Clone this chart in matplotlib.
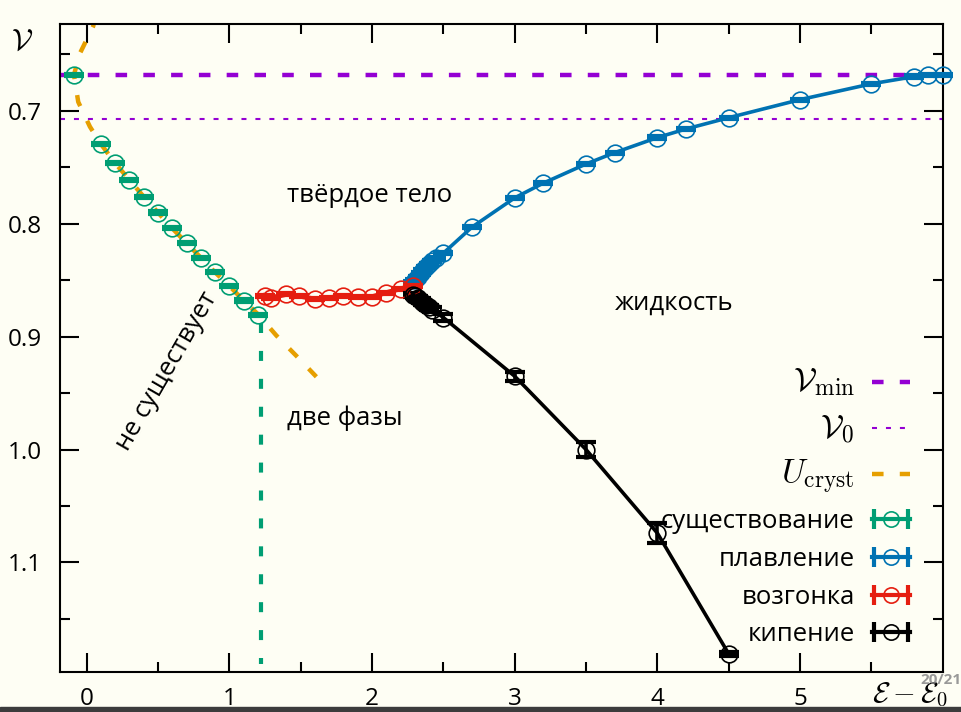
import numpy as np
import matplotlib
matplotlib.use('Agg')
import matplotlib.pyplot as plt
from matplotlib.patches import Rectangle
from matplotlib.lines import Line2D
from matplotlib.legend_handler import HandlerBase

# данные
v_min = 0.668
v_0 = 0.707

u_x = [0.06, 0.046, -0.047, -0.089, -0.059, 0.023, 0.098, 0.198, 0.299, 0.40, 0.50,
       0.60, 0.70, 0.80, 0.90, 1.0, 1.10, 1.20, 1.33, 1.47, 1.61]
u_v = [0.616, 0.625, 0.649, 0.668, 0.692, 0.714, 0.729, 0.746, 0.761, 0.776, 0.790,
       0.804, 0.817, 0.830, 0.843, 0.855, 0.868, 0.880, 0.899, 0.917, 0.9355]

exist_x = [-0.089, 0.1, 0.2, 0.3, 0.4, 0.5, 0.6, 0.7, 0.8, 0.9, 1.0, 1.1, 1.2]
exist_v = [0.668, 0.729, 0.746, 0.761, 0.776, 0.790, 0.804, 0.817, 0.830, 0.843, 0.855, 0.868, 0.881]
exist_err = [0.001] * len(exist_x)
exist_edge = 1.225
exist_edge_v = [0.888, 1.19]

melt_x = [2.29, 2.30, 2.32, 2.34, 2.36, 2.38, 2.40, 2.42, 2.45, 2.5, 2.7, 3.0, 3.2, 3.5,
          3.7, 4.0, 4.2, 4.5, 5.0, 5.5, 5.8, 5.9, 6.0]
melt_v = [0.852, 0.850, 0.847, 0.844, 0.841, 0.838, 0.836, 0.833, 0.830, 0.826, 0.803,
          0.777, 0.764, 0.747, 0.737, 0.7236, 0.716, 0.706, 0.690, 0.676, 0.6696, 0.668, 0.668]
melt_err = [0.001] * len(melt_x)

subl_x = [1.25, 1.29, 1.40, 1.49, 1.60, 1.70, 1.80, 1.90, 2.0, 2.10, 2.20, 2.29]
subl_v = [0.8637, 0.8655, 0.8625, 0.864, 0.8667, 0.8655, 0.8637, 0.8646, 0.8646,
          0.861, 0.8575, 0.855]
subl_err = [0.001] * len(subl_x)

boil_x = [2.29, 2.30, 2.32, 2.34, 2.36, 2.38, 2.40, 2.42, 2.5, 3.0, 3.5, 4.0, 4.5]
boil_v = [0.863, 0.864, 0.866, 0.868, 0.870, 0.872, 0.874, 0.876, 0.883, 0.935, 1.0,
          1.074, 1.181]
boil_err = [0.002] * 8 + [0.003, 0.004, 0.007, 0.009, 0.002]

# цвета gnuplot
c_violet = '#9400d3'
c_green = '#009e73'
c_blue = '#0072b2'
c_orange = '#e69f00'
c_red = '#e51e10'
bg = '#fefef4'

plt.rcParams['font.family'] = ['Open Sans', 'DejaVu Sans']
plt.rcParams['mathtext.fontset'] = 'cm'
plt.rcParams['font.size'] = 17.5


class HandlerHOH(HandlerBase):
    # значок легенды как у gnuplot: |—o—|
    def create_artists(self, legend, orig_handle, xdescent, ydescent, width,
                       height, fontsize, trans):
        col = orig_handle.get_color()
        y = height / 2 - ydescent
        x0, x1 = -xdescent, -xdescent + width
        bar = Line2D([x0, x1], [y, y], color=col, lw=3)
        caps = Line2D([x0 + 1.5, x1 - 1.5], [y, y], ls='none', marker='|', ms=14,
                      mew=3, color=col)
        circ = Line2D([(x0 + x1) / 2], [y], ls='none', marker='o', ms=11,
                      mfc='none', mec=col, mew=1.2)
        for a in (bar, caps, circ):
            a.set_transform(trans)
        return [bar, caps, circ]


fig = plt.figure(figsize=(9.61, 7.12), dpi=100, facecolor=bg)
ax = fig.add_axes([0.0624, 0.0562, 0.9186, 0.9101])
ax.set_facecolor(bg)

ax.axhline(v_min, color=c_violet, lw=3.2, dashes=(2.6, 3.65), label=r'$\mathcal{V}_{\rm min}$', zorder=2)
ax.axhline(v_0, color=c_violet, lw=1.5, dashes=(2.4, 4.3), label=r'$\mathcal{V}_0$', zorder=2)
ax.plot(u_x, u_v, color=c_orange, lw=3.2, dashes=(2.6, 3.65), label=r'$U_{\rm cryst}$', zorder=2)
ax.plot([exist_edge, exist_edge], exist_edge_v, color=c_green, lw=3, dashes=(2.4, 4.3), zorder=2)

mk = dict(marker='o', ms=12, mfc='none', capsize=7, capthick=3)
series = [
    (exist_x, exist_v, exist_err, c_green, 'none', 2.5, 'существование'),
    (melt_x, melt_v, melt_err, c_blue, '-', 2.6, 'плавление'),
    (subl_x, subl_v, subl_err, c_red, '-', 3.5, 'возгонка'),
    (boil_x, boil_v, boil_err, 'black', '-', 2.6, 'кипение'),
]
proxies = []
for i, (x, v, e, col, ls, lw, lab) in enumerate(series):
    cont = ax.errorbar(x, v, yerr=e, color=col, ls=ls, lw=lw, elinewidth=lw,
                       zorder=3 + i * 0.1, clip_on=(col != c_blue), **mk)
    cont[0].set_markeredgewidth(1.2)
    proxies.append(Line2D([], [], color=col, label=lab))

ax.set_xlim(-0.187, 6.0)
ax.set_ylim(1.197, 0.623)
ax.set_xticks([0, 1, 2, 3, 4, 5])
ax.set_xticks(np.arange(0.5, 6, 1.0), minor=True)
ax.set_yticks([0.7, 0.8, 0.9, 1.0, 1.1])
ax.set_yticklabels(['0.7', '0.8', '0.9', '1.0', '1.1'])
ax.set_yticks([0.65, 0.75, 0.85, 0.95, 1.05, 1.15], minor=True)
ax.tick_params(which='both', direction='in', top=True, right=True, width=1.5)
ax.tick_params(which='major', length=14)
ax.tick_params(which='minor', length=7)
ax.tick_params(axis='y', which='major', pad=13)
ax.tick_params(axis='x', which='major', pad=11)
for s in ax.spines.values():
    s.set_linewidth(1.5)

ax.set_xlabel(r'$\mathcal{E} - \mathcal{E}_0$', fontsize=21)
ax.xaxis.set_label_coords(0.963, -0.012)
ax.set_ylabel(r'$\mathcal{V}$', fontsize=22, rotation=0, va='center', ha='center')
ax.yaxis.set_label_coords(-0.043, 0.972)

ax.text(1.985, 0.7745, 'твёрдое тело', ha='center', va='center', fontsize=18.5)
ax.text(4.12, 0.870, 'жидкость', ha='center', va='center', fontsize=18.5)
ax.text(1.81, 0.972, 'две фазы', ha='center', va='center', fontsize=18.5)
ax.text(0.56, 0.931, 'не существует', ha='center', va='center', rotation=60, fontsize=18.5)

handles, labels = ax.get_legend_handles_labels()
handles += proxies
labels += [p.get_label() for p in proxies]
leg = ax.legend(handles, labels, loc='lower right', bbox_to_anchor=(0.977, 0.018),
                borderpad=0, frameon=False, markerfirst=False, handlelength=1.45,
                labelspacing=0.5, handletextpad=0.68, fontsize=18.5,
                handler_map={p: HandlerHOH() for p in proxies})
for t in leg.get_texts()[:3]:
    t.set_fontsize(24)

fig.patches.append(Rectangle((0, 0), 1, 0.007, transform=fig.transFigure,
                             color='#3c3c3c', zorder=0))
fig.text(0.979, 0.045, '20/21', ha='center', va='center', fontsize=11,
         fontweight='bold', color='#888888', alpha=0.85)

fig.savefig('out.png', dpi=100, facecolor=bg)
